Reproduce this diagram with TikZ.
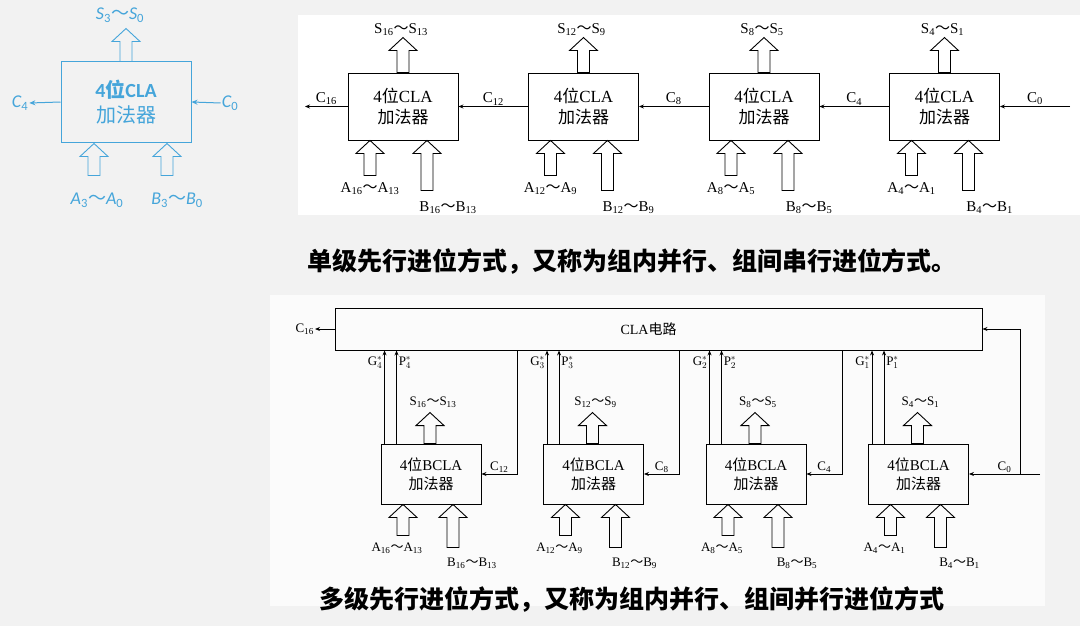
\documentclass[tikz,border=0pt]{standalone}
\usepackage{fontspec}
\setmainfont{Liberation Serif}
\newfontfamily\cjk{Noto Sans CJK SC}
\newfontfamily\blufont{Carlito}
\usepackage{tikz}
\usetikzlibrary{arrows.meta,positioning,calc}
\definecolor{clablue}{HTML}{45A5DA}
\definecolor{paper}{HTML}{F2F2F2}
\newcommand{\til}{{\cjk ～}}
\tikzset{pics/hollow/.style={code={
  \draw[line width=0.9pt, line join=miter] (-6,0) -- (-6,-#1) -- (-14,-#1) -- (0,-#1-13) -- (14,-#1) -- (6,-#1) -- (6,0) -- cycle;}}}

\begin{document}
\begin{tikzpicture}[x=1pt,y=-1pt,
  box/.style={draw, line width=0.9pt, minimum width=110pt, minimum height=67pt, align=center, inner sep=0pt, font=\fontsize{17}{21}\selectfont},
  bbox/.style={box, minimum width=100pt, minimum height=60pt, font=\fontsize{15}{19}\selectfont},
  clabox/.style={draw, line width=0.9pt, minimum width=647pt, minimum height=42pt, inner sep=0pt, font=\fontsize{14}{16}\selectfont},
  bluebox/.style={draw=clablue, text=clablue, line width=1pt, minimum width=130pt, minimum height=80pt, align=center, inner sep=0pt, font=\blufont\fontsize{20}{25}\selectfont},
  lbl/.style={font=\fontsize{15}{17}\selectfont, inner sep=1pt},
  slbl/.style={font=\fontsize{13}{15}\selectfont, inner sep=1pt},
  glbl/.style={font=\fontsize{13}{15}\selectfont, inner sep=1pt},
  blbl/.style={text=clablue, font=\blufont\itshape\fontsize{18}{20}\selectfont, inner sep=1pt},
  caption/.style={font=\cjk\bfseries\fontsize{25}{27}\selectfont},
  wire/.style={line width=0.9pt, -{Stealth[length=5pt,width=4pt]}},
  bwire/.style={clablue, line width=1pt, -{Stealth[length=6pt,width=5pt]}}]
  \useasboundingbox (0,0) rectangle (1080,626);
  \fill[paper] (0,0) rectangle (1080,626);
  \fill[white] (298,15) rectangle (1080,215);
  \fill[white!70!paper] (270,295) rectangle (1045,606);

  % single 4-bit CLA adder
  \node[bluebox] (blk) at (126,102) {{\bfseries 4{\cjk\bfseries 位}CLA}\\{\cjk 加法器}};
  \pic[color=clablue] at (blk.north) {hollow=20};
  \node[blbl] (sblk) at (120,15) {S\textsubscript{\upshape 3}\til S\textsubscript{\upshape 0}};
  \node[blbl] (c4) at (20,103) {C\textsubscript{\upshape 4}};
  \node[blbl] (c0) at (230,103) {C\textsubscript{\upshape 0}};
  \draw[bwire] (blk.west) -- (c4.east);
  \draw[bwire] (c0.west) -- (blk.east);
  \pic[color=clablue] at ($(blk.south)+(-32,33)$) {hollow=19};
  \pic[color=clablue] at ($(blk.south)+(41,33)$) {hollow=19};
  \node[blbl] (ablk) at (97,200) {A\textsubscript{\upshape 3}\til A\textsubscript{\upshape 0}};
  \node[blbl] (bblk) at (177,200) {B\textsubscript{\upshape 3}\til B\textsubscript{\upshape 0}};

  % single-level lookahead chain
  \foreach \i/\s/\a in {1/16/13, 2/12/9, 3/8/5, 4/4/1} {
    \pgfmathsetmacro{\cx}{403+180.5*(\i-1)}
    \node[box] (t\i) at (\cx,106.5) {4{\cjk 位}CLA\\{\cjk 加法器}};
    \pic at (t\i.north) {hollow=22};
    \node[lbl] (ts\i) at ($(t\i.north)+(-2,-43)$) {S\textsubscript{\s}\til S\textsubscript{\a}};
    \pic at ($(t\i.south)+(-33,35)$) {hollow=22};
    \pic at ($(t\i.south)+(24,50)$) {hollow=37};
    \node[lbl] (ta\i) at ($(t\i.south)+(-33,48)$) {A\textsubscript{\s}\til A\textsubscript{\a}};
    \node[lbl] (tb\i) at ($(t\i.south)+(45,67)$) {B\textsubscript{\s}\til B\textsubscript{\a}};
  }
  \coordinate (c16end) at (305,106.5);
  \coordinate (c0in) at (1070,106.5);
  \draw[wire] (t1.west) -- node[lbl, above]{C\textsubscript{16}} (c16end);
  \foreach \l/\r/\c in {1/2/12, 2/3/8, 3/4/4}
    \draw[wire] (t\r.west) -- node[lbl, above]{C\textsubscript{\c}} (t\l.east);
  \draw[wire] (c0in) -- node[lbl, above]{C\textsubscript{0}} (t4.east);
  \node[caption] (cap1) at (632,262) {单级先行进位方式，又称为组内并行、组间串行进位方式。};

  % multi-level lookahead
  \node[clabox] (cla) at (658.5,329) {\hspace*{-20pt}CLA{\cjk 电路}};
  \coordinate (c16o) at (315,329);
  \draw[wire] (cla.west) -- (c16o);
  \node[slbl, anchor=east] (c16b) at (c16o) {C\textsubscript{16}};
  \foreach \i/\s/\a/\g in {1/16/13/4, 2/12/9/3, 3/8/5/2, 4/4/1/1} {
    \pgfmathsetmacro{\cx}{431+162.5*(\i-1)}
    \node[bbox] (b\i) at (\cx,474) {4{\cjk 位}BCLA\\{\cjk 加法器}};
    \coordinate (g\i) at ($(b\i.north west)+(4,0)$);
    \coordinate (p\i) at ($(b\i.north west)+(16,0)$);
    \draw[wire] (g\i) -- (g\i |- cla.south);
    \draw[wire] (p\i) -- (p\i |- cla.south);
    \node[glbl, anchor=east] (gl\i) at ($(g\i |- cla.south)+(-1,12)$) {$\mbox{G}^{*}_{\g}$};
    \node[glbl, anchor=west] (pl\i) at ($(p\i |- cla.south)+(1,12)$) {$\mbox{P}^{*}_{\g}$};
    \pic at ($(b\i.north)+(-1,0)$) {hollow=18};
    \node[slbl] (bs\i) at ($(b\i.north)+(2,-41)$) {S\textsubscript{\s}\til S\textsubscript{\a}};
    \pic at ($(b\i.south)+(-28,31)$) {hollow=18};
    \pic at ($(b\i.south)+(22,43)$) {hollow=30};
    \node[slbl] (ba\i) at ($(b\i.south)+(-34,44)$) {A\textsubscript{\s}\til A\textsubscript{\a}};
    \node[slbl] (bb\i) at ($(b\i.south)+(41,59)$) {B\textsubscript{\s}\til B\textsubscript{\a}};
  }
  % group carries from the CLA circuit
  \foreach \i/\j/\c in {1/2/12, 2/3/8, 3/4/4} {
    \coordinate (k\i) at ($(b\j.west)+(-26,0)$);
    \draw[wire] (k\i |- cla.south) |- node[slbl, pos=0.75, above]{C\textsubscript{\c}} (b\i.east);
  }
  \coordinate (c0in2) at (1040,474);
  \coordinate (c0j) at (1020,474);
  \draw[wire] (c0in2) -- node[slbl, above]{C\textsubscript{0}} (b4.east);
  \draw[wire] (c0j) |- (cla.east);
  \node[caption] (cap2) at (632,600) {多级先行进位方式，又称为组内并行、组间并行进位方式};
\end{tikzpicture}
\end{document}
